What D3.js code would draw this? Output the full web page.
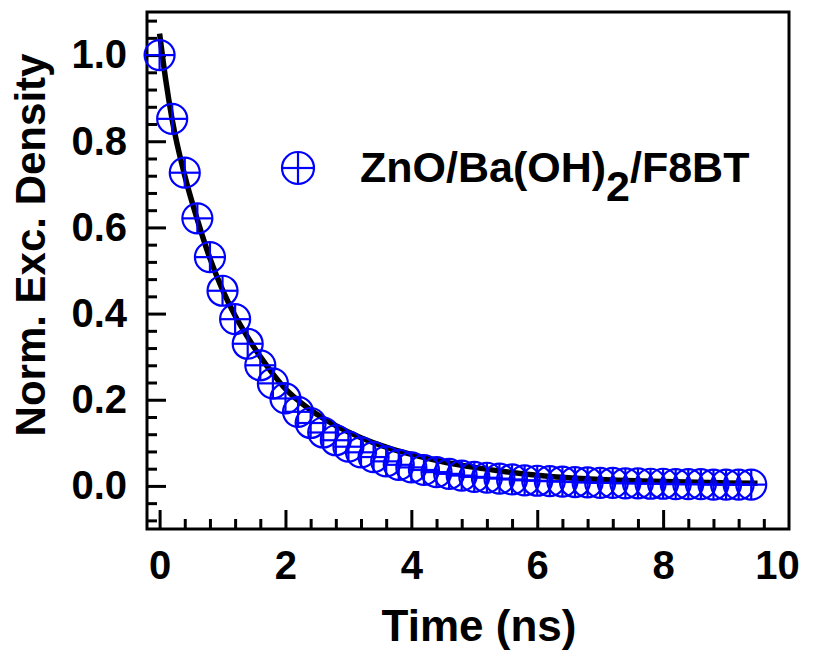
<!DOCTYPE html>
<html>
<head>
<meta charset="utf-8">
<script src="https://cdn.jsdelivr.net/npm/d3@7.9.0/dist/d3.min.js"></script>
<style>
  html, body { margin: 0; padding: 0; background: #fff; }
  svg { display: block; font-family: Arial, "Liberation Sans", sans-serif; font-weight: bold; }
</style>
</head>
<body>
<div id="chart"></div>
<script>
// measured decay (ns, normalised density)
const times = [0, 0.2, 0.4, 0.6, 0.8, 1.0, 1.2, 1.4, 1.6, 1.8,
  2.0, 2.2, 2.4, 2.6, 2.8, 3.0, 3.2, 3.4, 3.6, 3.8,
  4.0, 4.2, 4.4, 4.6, 4.8, 5.0, 5.2, 5.4, 5.6, 5.8,
  6.0, 6.2, 6.4, 6.6, 6.8, 7.0, 7.2, 7.4, 7.6, 7.8,
  8.0, 8.2, 8.4, 8.6, 8.8, 9.0, 9.2, 9.4];
const density = [1.000, 0.852, 0.727, 0.621, 0.531, 0.453, 0.387, 0.330, 0.280, 0.238,
  0.203, 0.172, 0.146, 0.124, 0.106, 0.091, 0.078, 0.067, 0.057, 0.049,
  0.043, 0.037, 0.032, 0.028, 0.024, 0.021, 0.019, 0.017, 0.015, 0.013,
  0.012, 0.011, 0.010, 0.009, 0.008, 0.007, 0.007, 0.006, 0.006, 0.005,
  0.005, 0.004, 0.004, 0.004, 0.003, 0.003, 0.003, 0.003];

// fitted curve
const fitTimes = [0, 0.1, 0.2, 0.4, 0.6, 0.8, 1.0, 1.2, 1.4, 1.6, 1.8, 2.0,
  2.4, 2.8, 3.2, 3.6, 4.0, 4.5, 5.0, 5.5, 6.0, 6.5, 7.0, 8.0, 9.0, 9.5];
const fitValues = [1.05, 0.94, 0.85, 0.72, 0.618, 0.528, 0.455, 0.395, 0.345, 0.30, 0.26, 0.225,
  0.176, 0.14, 0.112, 0.09, 0.073, 0.056, 0.043, 0.033, 0.025, 0.019, 0.015, 0.010, 0.007, 0.006];

const xTicks = [0, 2, 4, 6, 8, 10];
const yTicks = [0.0, 0.2, 0.4, 0.6, 0.8, 1.0];
const xLabel = 'Time (ns)';
const yLabel = 'Norm. Exc. Density';
const seriesName = ['ZnO/Ba(OH)', '2', '/F8BT'];

const width = 818;
const height = 651;
const plot = { left: 147, right: 789, top: 12, bottom: 529 };
const blue = '#0000ff';

const svg = d3.select('#chart')
  .append('svg')
  .attr('width', width)
  .attr('height', height);

const x = d3.scaleLinear().domain([-0.2, 10]).range([plot.left, plot.right]);
const y = d3.scaleLinear().domain([-0.1, 1.1]).range([plot.bottom, plot.top]);

const xMinor = d3.range(0, 9.7, 0.4).filter(v => Math.abs(v / 2 - Math.round(v / 2)) > 1e-6);
const yMinor = d3.range(-0.08, 1.09, 0.04).filter(v => Math.abs(v / 0.2 - Math.round(v / 0.2)) > 1e-6);

function styleAxis(g) {
  g.select('.domain').remove();
  g.selectAll('.tick line').attr('stroke', '#000').attr('stroke-width', 3);
  g.selectAll('.tick text')
    .attr('fill', '#000')
    .style('font-size', '40px')
    .style('font-weight', 'bold');
}

// minor ticks (inward)
svg.append('g')
  .attr('transform', `translate(0,${plot.bottom})`)
  .call(d3.axisBottom(x).tickValues(xMinor).tickSize(-10).tickFormat(''))
  .call(styleAxis);
svg.append('g')
  .attr('transform', `translate(${plot.left},0)`)
  .call(d3.axisLeft(y).tickValues(yMinor).tickSize(-10).tickFormat(''))
  .call(styleAxis);

// major ticks with labels
svg.append('g')
  .attr('transform', `translate(0,${plot.bottom})`)
  .call(d3.axisBottom(x).tickValues(xTicks).tickSize(-19).tickPadding(22).tickFormat(d3.format('d')))
  .call(styleAxis)
  .call(g => {
    const last = g.selectAll('.tick').filter(d => d === 10);
    last.select('line').remove();
    last.select('text').attr('x', -12); // last label sits a bit inside the edge
  });
svg.append('g')
  .attr('transform', `translate(${plot.left},0)`)
  .call(d3.axisLeft(y).tickValues(yTicks).tickSize(-19).tickPadding(20).tickFormat(d3.format('.1f')))
  .call(styleAxis);

// frame
svg.append('rect')
  .attr('x', plot.left)
  .attr('y', plot.top)
  .attr('width', plot.right - plot.left)
  .attr('height', plot.bottom - plot.top)
  .attr('fill', 'none')
  .attr('stroke', '#000')
  .attr('stroke-width', 3);

// fit line
const line = d3.line()
  .x(d => x(d[0]))
  .y(d => y(d[1]))
  .curve(d3.curveMonotoneX);

svg.append('path')
  .datum(d3.zip(fitTimes, fitValues))
  .attr('d', line)
  .attr('fill', 'none')
  .attr('stroke', '#000')
  .attr('stroke-width', 5.5);

// circle-plus markers
function marker(g, r) {
  g.append('circle').attr('r', r).attr('fill', 'none').attr('stroke', blue).attr('stroke-width', 2.2);
  g.append('line').attr('x1', -r).attr('x2', r).attr('stroke', blue).attr('stroke-width', 2.2);
  g.append('line').attr('y1', -r).attr('y2', r).attr('stroke', blue).attr('stroke-width', 2.2);
}

svg.append('g')
  .selectAll('g')
  .data(d3.zip(times, density))
  .join('g')
  .attr('transform', d => `translate(${x(d[0])},${y(d[1])})`)
  .each(function () { marker(d3.select(this), 15); });

// legend
const legend = svg.append('g').attr('transform', 'translate(298,168)');
marker(legend, 16);
const lt = legend.append('text')
  .attr('x', 62)
  .attr('y', 14)
  .style('font-size', '43px')
  .attr('fill', '#000');
lt.append('tspan').text(seriesName[0]);
lt.append('tspan').attr('dy', 19).text(seriesName[1]);
lt.append('tspan').attr('dy', -19).text(seriesName[2]);

// axis titles
svg.append('text')
  .attr('x', 479)
  .attr('y', 641)
  .attr('text-anchor', 'middle')
  .style('font-size', '44px')
  .text(xLabel);

svg.append('text')
  .attr('transform', 'translate(45,245) rotate(-90)')
  .attr('text-anchor', 'middle')
  .style('font-size', '42px')
  .text(yLabel);
</script>
</body>
</html>
